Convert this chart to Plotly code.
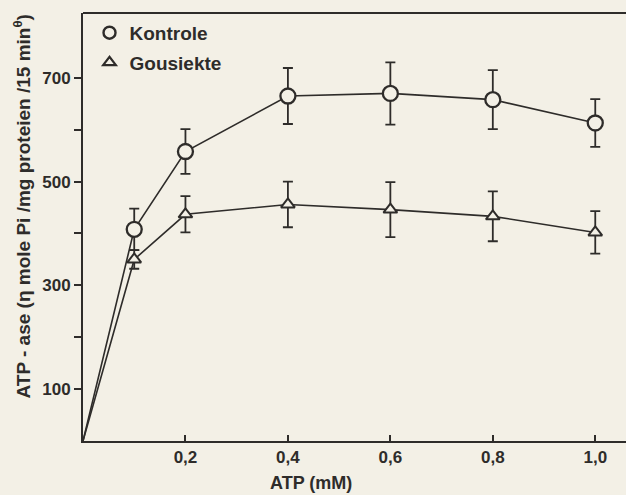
import plotly.graph_objects as go

# Data
atp = [0.0, 0.1, 0.2, 0.4, 0.6, 0.8, 1.0]
kontrole = [0, 408, 558, 665, 670, 658, 613]
kontrole_err = [0, 40, 43, 54, 60, 57, 46]
gousiekte = [0, 350, 437, 456, 446, 433, 402]
gousiekte_err = [0, 18, 35, 44, 53, 48, 41]

x_tickvals = [0.2, 0.4, 0.6, 0.8, 1.0]
x_ticktext = ["0,2", "0,4", "0,6", "0,8", "1,0"]
y_tickvals = [100, 300, 500, 700]
y_ticktext = ["100", "300", "500", "700"]
y_minorvals = [200, 400, 600]

INK = "#2e2c2a"
BG = "#f3f0e6"
FONT = "Liberation Sans, Arial, sans-serif"

fig = go.Figure()

fig.add_trace(go.Scatter(
    x=atp, y=kontrole, mode="lines",
    line=dict(color=INK, width=1.6), showlegend=False, hoverinfo="skip"))
fig.add_trace(go.Scatter(
    x=atp, y=gousiekte, mode="lines",
    line=dict(color=INK, width=1.6), showlegend=False, hoverinfo="skip"))

fig.add_trace(go.Scatter(
    x=atp[1:], y=kontrole[1:], mode="markers", showlegend=False,
    marker=dict(symbol="circle", size=15, color=BG, line=dict(color=INK, width=2.3)),
    error_y=dict(type="data", array=kontrole_err[1:], color=INK, thickness=1.8, width=5)))
fig.add_trace(go.Scatter(
    x=atp[1:], y=gousiekte[1:], mode="markers", showlegend=False,
    marker=dict(symbol="triangle-up", size=12, color=BG, line=dict(color=INK, width=2)),
    error_y=dict(type="data", array=gousiekte_err[1:], color=INK, thickness=1.8, width=5)))

# legend-only entries
fig.add_trace(go.Scatter(
    x=[None], y=[None], mode="markers", name="Kontrole", legendgroup="a",
    marker=dict(symbol="circle", size=12, color=BG, line=dict(color=INK, width=2.4))))
fig.add_trace(go.Scatter(
    x=[None], y=[None], mode="markers", name="Gousiekte", legendgroup="b",
    marker=dict(symbol="triangle-up", size=11, color=BG, line=dict(color=INK, width=2.2))))

fig.update_layout(
    width=626, height=495,
    margin=dict(l=83, r=0, t=13, b=54),
    paper_bgcolor=BG, plot_bgcolor=BG,
    font=dict(family=FONT, color=INK, size=17),
    showlegend=True,
    legend=dict(
        x=0.012, y=0.998, xanchor="left", yanchor="top",
        bgcolor="rgba(0,0,0,0)", borderwidth=0,
        font=dict(family=FONT, size=19, color=INK, weight="bold"),
        traceorder="grouped", tracegroupgap=2, itemwidth=30,
    ),
    xaxis=dict(
        range=[0, 1.06], showgrid=False, zeroline=False,
        showline=True, linecolor=INK, linewidth=2,
        ticks="inside", ticklen=6, tickwidth=2, tickcolor=INK,
        tickvals=x_tickvals, ticktext=x_ticktext,
        tickfont=dict(family=FONT, size=17, color=INK, weight="bold"),
    ),
    yaxis=dict(
        range=[0, 825], showgrid=False, zeroline=False,
        showline=True, linecolor=INK, linewidth=2,
        ticks="outside", ticklen=7, tickwidth=2, tickcolor=INK,
        tickvals=y_tickvals, ticktext=y_ticktext,
        minor=dict(tickvals=y_minorvals, ticks="outside", ticklen=7,
                   tickwidth=2, tickcolor=INK, showgrid=False),
        tickfont=dict(family=FONT, size=17, color=INK, weight="bold"),
    ),
    shapes=[dict(type="line", xref="paper", yref="paper", x0=0, x1=1, y0=1, y1=1,
                 line=dict(color=INK, width=2))],
    annotations=[
        dict(text="ATP (mM)", xref="paper", yref="paper", x=0.42, y=-0.097,
             xanchor="center", yanchor="middle", showarrow=False,
             font=dict(family=FONT, size=18, color=INK, weight="bold")),
        dict(text="ATP - ase (η mole Pi /mg proteien /15 min<sup>θ</sup>)",
             xref="paper", yref="paper", x=-0.113, y=0.547, textangle=-90,
             xanchor="center", yanchor="middle", showarrow=False,
             font=dict(family=FONT, size=19, color=INK, weight="bold")),
    ],
)

fig.write_html("out.html")
